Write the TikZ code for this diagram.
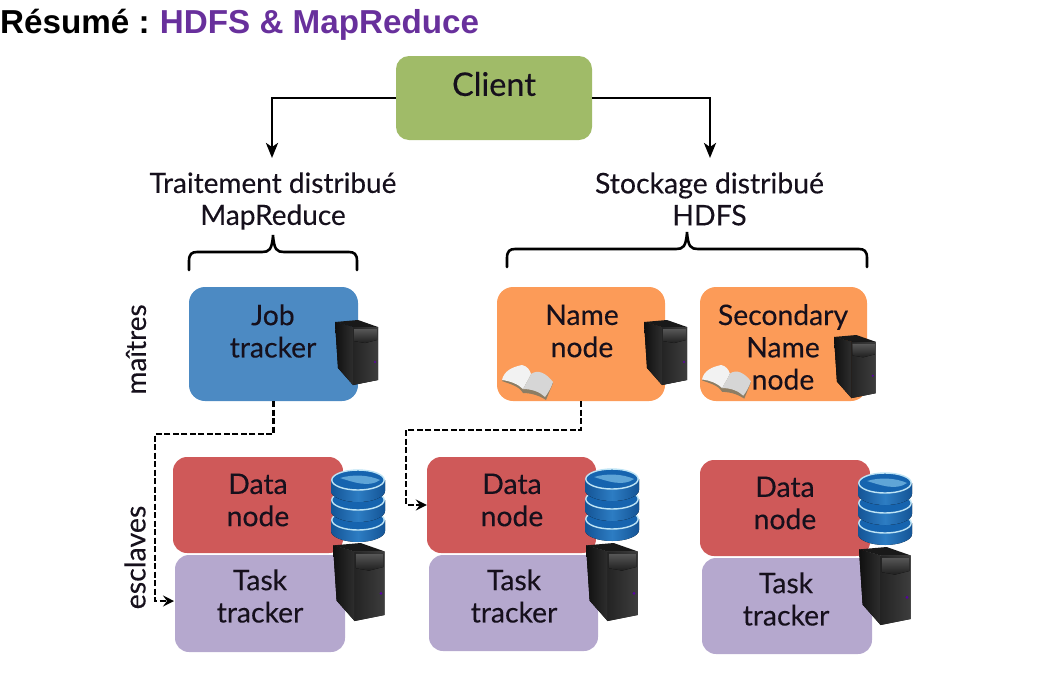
\documentclass[tikz,border=0pt]{standalone}
\usepackage{fontspec}
\setmainfont[FakeBold=0.25]{Lato}
\newfontfamily\titlefont[Ligatures=TeX]{Liberation Sans}
\usetikzlibrary{arrows.meta}
\definecolor{cgreen}{RGB}{160,187,104}
\definecolor{cblue}{RGB}{76,138,195}
\definecolor{corange}{RGB}{252,155,88}
\definecolor{cred}{RGB}{207,89,89}
\definecolor{cpurple}{RGB}{181,168,206}
\definecolor{ctitle}{RGB}{104,48,156}
\definecolor{cink}{RGB}{22,16,28}
\definecolor{dbdark}{RGB}{20,84,150}
\definecolor{dbmid}{RGB}{45,125,195}
\definecolor{dbtop}{RGB}{22,100,175}
\definecolor{dbhi}{RGB}{95,165,215}
\definecolor{dbrim}{RGB}{190,228,245}
\definecolor{bookshade}{RGB}{140,125,100}
\tikzset{
  box/.style={rounded corners=#1,inner sep=0pt,outer sep=0pt},
  box/.default=16pt,
  lbl/.style={text=cink,align=center,inner sep=0pt,font=\fontsize{28.3}{32.3}\selectfont},
  side/.style={text=cink,align=center,inner sep=0pt,font=\fontsize{28}{32}\selectfont},
  solidconn/.style={draw=black,line width=2.8pt,-{Stealth[length=15pt,width=12pt,inset=4pt]}},
  dashconn/.style={draw=black,line width=2.8pt,dash pattern=on 6pt off 2.5pt,-{Stealth[length=11pt,width=11pt,inset=4pt]}},
  bracepath/.style={draw=black,line width=2.6pt,line cap=round},
  pics/server/.style={code={
    \fill[black!90] (0,2) -- (23,0) -- (43,7) -- (18,7) -- cycle;
    \fill[left color=black!94,right color=black!82] (0,2) -- (18,7) -- (18,65) -- (3,48) -- cycle;
    \fill[left color=black!86,right color=black!76] (18,7) -- (43,7) -- (43,60) -- (18,65) -- cycle;
    \fill[top color=black!66,bottom color=black!88] (19,9) -- (42,9) -- (42,20) -- (30,23) -- (19,21) -- cycle;
    \fill[violet!70!blue] (40,42) circle (1.2);
  }},
  pics/dbase/.style={code={
    \foreach \cy in {51,31,11}{
      \fill[left color=dbdark,right color=dbdark,middle color=dbmid]
        (0,\cy) -- (0,\cy+11) arc[start angle=180,end angle=0,x radius=27,y radius=11] -- (54,\cy) -- cycle;
      \draw[dbrim,line width=1.4pt,fill=dbtop] (27,\cy) ellipse[x radius=26.2,y radius=10];
    }
    \fill[dbhi] (9,9) .. controls (22,5) and (38,6) .. (49,11) .. controls (38,19) and (22,13) .. (9,9) -- cycle;
  }},
  pics/openbook/.style={code={
    \fill[bookshade] (0,16) .. controls (8,19) and (17,21) .. (21,28) .. controls (30,28) and (38,31) .. (44,35) -- (51,18) -- (28,9) -- (6,8) -- cycle;
    \fill[black!5] (0,15) .. controls (2,6) and (10,2) .. (20,0) .. controls (25,1) and (28,5) .. (29,9) .. controls (27,14) and (24,18) .. (21,24) .. controls (16,19) and (8,16) .. (0,15) -- cycle;
    \fill[black!16] (29,9) .. controls (36,4) and (44,8) .. (51,17) .. controls (49,23) and (46,28) .. (43,32) .. controls (38,27) and (30,24) .. (21,24) .. controls (24,18) and (27,14) .. (29,9) -- cycle;
  }}
}
\begin{document}
\begin{tikzpicture}[x=1pt,y=-1pt]
\useasboundingbox (0,0) rectangle (1054,675);
\node[anchor=base west,inner sep=0pt,font=\titlefont\bfseries\fontsize{33.2}{36}\selectfont] (title) at (0,33) {Résumé : \hspace{-2pt}\textcolor{ctitle}{HDFS \& MapReduce}};

% boxes
\path[fill=cgreen,box=13pt] (396,56) rectangle (592,140);
\node[minimum width=196pt,minimum height=84pt,inner sep=0pt] (client) at (494,98) {};
\fill[cblue,box] (189,287) rectangle (358,401);
\node[minimum width=169pt,minimum height=114pt,inner sep=0pt] (job) at (273.5,344) {};
\fill[corange,box] (497,287) rectangle (665,401);
\node[minimum width=168pt,minimum height=114pt,inner sep=0pt] (name) at (581,344) {};
\fill[corange,box] (700,287) rectangle (867,401);
\node[minimum width=167pt,minimum height=114pt,inner sep=0pt] (second) at (783.5,344) {};

\fill[cpurple,box=14pt] (175,555) rectangle (345,652);
\node[minimum width=170pt,minimum height=97pt,inner sep=0pt] (task1) at (260,603.5) {};
\fill[cred,box=14pt] (173,457) rectangle (343,553);
\node[minimum width=170pt,minimum height=96pt,inner sep=0pt] (data1) at (258,505) {};
\fill[cpurple,box=14pt] (429,555) rectangle (598,651);
\node[minimum width=169pt,minimum height=96pt,inner sep=0pt] (task2) at (513.5,603) {};
\fill[cred,box=14pt] (427,457) rectangle (596,553);
\node[minimum width=169pt,minimum height=96pt,inner sep=0pt] (data2) at (511.5,505) {};
\fill[cpurple,box=14pt] (702,558) rectangle (872,654);
\node[minimum width=170pt,minimum height=96pt,inner sep=0pt] (task3) at (787,606) {};
\fill[cred,box=14pt] (700,460) rectangle (870,556);
\node[minimum width=170pt,minimum height=96pt,inner sep=0pt] (data3) at (785,508) {};

% texts
\node[lbl,font=\fontsize{32.5}{36}\selectfont] (tclient) at (494,84) {Client};
\node[side] (tmr) at (273,201) {Traitement distribué\\MapReduce};
\node[side,font=\fontsize{28.4}{32}\selectfont] (thdfs) at (709.5,199) {Stockage distribué\\HDFS};
\node[lbl] (tjob) at (273,331) {Job\\tracker};
\node[lbl] (tname) at (582,331) {Name\\node};
\node[lbl] (tsecond) at (783,347) {Secondary\\Name\\node};
\node[lbl] (tdata1) at (258,500) {Data\\node};
\node[lbl] (ttask1) at (260,596) {Task\\tracker};
\node[lbl] (tdata2) at (512,500) {Data\\node};
\node[lbl] (ttask2) at (514,596) {Task\\tracker};
\node[lbl] (tdata3) at (785,503) {Data\\node};
\node[lbl] (ttask3) at (786,599) {Task\\tracker};
\node[side,rotate=90] (tmaitres) at (136,349.5) {maîtres};
\node[side,rotate=90,font=\fontsize{28.6}{32}\selectfont] (tesclaves) at (135,557.5) {esclaves};

% icons
\pic at (335,320) {server};
\pic at (644,320) {server};
\pic[scale=.97] at (834,335) {server};
\pic[scale=1.2] at (333,543) {server};
\pic[scale=1.2] at (586,543) {server};
\pic[scale=1.2] at (859,547) {server};
\pic at (331,469) {dbase};
\pic at (585,468) {dbase};
\pic at (858,472) {dbase};
\pic at (502,365) {openbook};
\pic[scale=.96] at (702,365) {openbook};

% connectors
\coordinate (tipL) at (272,158);
\coordinate (tipR) at (710,158);
\draw[solidconn] (client.west) -| (tipL);
\draw[solidconn] (client.east) -| (tipR);
\coordinate (jobturn) at (273.5,434);
\coordinate (jobleft) at (155,434);
\coordinate (jobdown) at (155,601);
\coordinate (jobtip) at (174,601);
\draw[dashconn] (job.south) -- (jobturn) -- (jobleft) -- (jobdown) -- (jobtip);
\coordinate (nameturn) at (581,430);
\coordinate (nameleft) at (406,430);
\coordinate (namedown) at (406,505);
\draw[dashconn] (name.south) -- (nameturn) -- (nameleft) -- (namedown) -- (data2.west);

% braces
\draw[bracepath] (189,270) -- (189,261) .. controls (189,254) and (192,252) .. (197,252) -- (262,252) .. controls (269,252) and (272,250) .. (273,235) .. controls (274,250) and (277,252) .. (284,252) -- (349,252) .. controls (354,252) and (357,254) .. (357,261) -- (357,270);
\draw[bracepath] (507,267) -- (507,258) .. controls (507,251) and (510,249) .. (515,249) -- (676,249) .. controls (683,249) and (686,247) .. (687,232) .. controls (688,247) and (691,249) .. (698,249) -- (859,249) .. controls (864,249) and (867,251) .. (867,258) -- (867,267);
\end{tikzpicture}
\end{document}
